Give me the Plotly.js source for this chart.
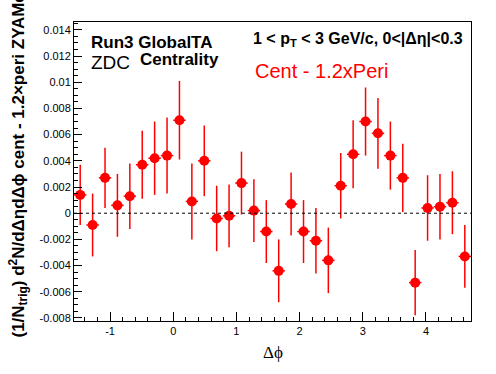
<!DOCTYPE html>
<html>
<head>
<meta charset="utf-8">
<script src="https://cdn.plot.ly/plotly-3.0.1.min.js"></script>
<style>html,body{margin:0;padding:0;background:#fff;}#chart{width:496px;height:374px;}</style>
</head>
<body>
<div id="chart"></div>
<script>
// Δφ bin centres (32 bins from -π/2 to 3π/2)
const dphi = [-1.4726, -1.2763, -1.0799, -0.8836, -0.6872, -0.4909, -0.2945, -0.0982,
              0.0982, 0.2945, 0.4909, 0.6872, 0.8836, 1.0799, 1.2763, 1.4726,
              1.6690, 1.8653, 2.0617, 2.2580, 2.4544, 2.6507, 2.8471, 3.0434,
              3.2398, 3.4361, 3.6325, 3.8288, 4.0252, 4.2215, 4.4179, 4.6142];
const yield_ = [0.0014, -0.0009, 0.0027, 0.0006, 0.0013, 0.0037, 0.0042, 0.0044,
                0.0071, 0.0009, 0.0040, -0.0004, -0.0002, 0.0023, 0.0002, -0.0014,
                -0.0044, 0.0007, -0.0014, -0.0021, -0.0036, 0.0021, 0.0045, 0.0070,
                0.0061, 0.0044, 0.0027, -0.0053, 0.0004, 0.0005, 0.0008, -0.0033];
const yerr = [0.0023, 0.0024, 0.0023, 0.0024, 0.0025, 0.0026, 0.0028, 0.0029,
              0.0030, 0.0029, 0.0027, 0.0025, 0.0024, 0.0024, 0.0024, 0.0024,
              0.0024, 0.0024, 0.0024, 0.0025, 0.0025, 0.0025, 0.0026, 0.0026,
              0.0027, 0.0026, 0.0026, 0.0025, 0.0025, 0.0025, 0.0024, 0.0024];
const halfBin = 0.0982;
const yTickVals = [0.014, 0.012, 0.01, 0.008, 0.006, 0.004, 0.002, 0, -0.002, -0.004, -0.006, -0.008];
const yTickText = ["0.014", "0.012", "0.01", "0.008", "0.006", "0.004", "0.002", "0", "-0.002", "-0.004", "-0.006", "-0.008"];
const xTickVals = [-1, 0, 1, 2, 3, 4];
const xTickText = ["-1", "0", "1", "2", "3", "4"];

const trace = {
  x: dphi, y: yield_, type: 'scatter', mode: 'markers',
  marker: {color: '#ff0000', size: 10, symbol: 'circle'},
  error_y: {type: 'data', array: yerr, visible: true, color: '#ff0000', thickness: 1.5, width: 0},
  error_x: {type: 'constant', value: halfBin, visible: true, color: '#ff0000', thickness: 1.5, width: 0},
  showlegend: false, hoverinfo: 'skip'
};

const font = {family: '"Liberation Sans", Arial, sans-serif', color: '#000'};
const layout = {
  width: 496, height: 374,
  margin: {l: 74, r: 25, t: 22, b: 53},
  paper_bgcolor: '#fff', plot_bgcolor: '#fff',
  font: {family: font.family, size: 11, color: '#000'},
  xaxis: {
    range: [-1.5708, 4.7124], showgrid: false, zeroline: false,
    showline: true, mirror: true, linecolor: '#000', linewidth: 1,
    ticks: 'inside', ticklen: 9, tickcolor: '#000',
    tickvals: xTickVals, ticktext: xTickText,
    tickfont: {family: font.family, size: 11, color: '#000'},
    minor: {dtick: 0.2, tick0: 0, ticks: 'inside', ticklen: 4, tickcolor: '#000', showgrid: false}
  },
  yaxis: {
    range: [-0.00823, 0.0146], showgrid: false, zeroline: false,
    showline: true, mirror: true, linecolor: '#000', linewidth: 1,
    ticks: 'inside', ticklen: 8, tickcolor: '#000',
    tickvals: yTickVals, ticktext: yTickText,
    tickfont: {family: font.family, size: 11, color: '#000'},
    minor: {dtick: 0.0005, tick0: 0, ticks: 'inside', ticklen: 4, tickcolor: '#000', showgrid: false}
  },
  shapes: [{type: 'line', xref: 'paper', x0: 0, x1: 1, yref: 'y', y0: 0, y1: 0,
            line: {color: '#000', width: 1, dash: '3px,3px'}}],
  annotations: [
    {text: '<b>Run3 GlobalTA</b>', xref: 'paper', yref: 'paper', x: 0.038, y: 0.933,
     xanchor: 'left', yanchor: 'middle', showarrow: false, font: {family: font.family, size: 17, color: '#000'}},
    {text: 'ZDC', xref: 'paper', yref: 'paper', x: 0.038, y: 0.866,
     xanchor: 'left', yanchor: 'middle', showarrow: false, font: {family: font.family, size: 19, color: '#000'}},
    {text: '<b>Centrality</b>', xref: 'paper', yref: 'paper', x: 0.16, y: 0.876,
     xanchor: 'left', yanchor: 'middle', showarrow: false, font: {family: font.family, size: 17, color: '#000'}},
    {text: '<b>1 < p<sub>T</sub> < 3 GeV/c, 0<|Δη|<0.3</b>', xref: 'paper', yref: 'paper', x: 0.985, y: 0.943,
     xanchor: 'right', yanchor: 'middle', showarrow: false, font: {family: font.family, size: 16, color: '#000'}},
    {text: 'Cent - 1.2xPeri', xref: 'paper', yref: 'paper', x: 0.795, y: 0.836,
     xanchor: 'right', yanchor: 'middle', showarrow: false, font: {family: font.family, size: 20, color: '#ff0000'}},
    {text: '<b>(1/N<sub>trig</sub>) d<sup>2</sup>N/dΔηdΔϕ cent - 1.2×peri ZYAMed</b>', xref: 'paper', yref: 'paper',
     x: -0.141, y: -0.0635, xanchor: 'center', yanchor: 'bottom', textangle: -90, showarrow: false,
     font: {family: font.family, size: 17, color: '#000'}},
    {text: 'Δϕ', xref: 'paper', yref: 'paper', x: 0.5, y: -0.1037, xanchor: 'center', yanchor: 'middle',
     showarrow: false, font: {family: '"Liberation Serif", serif', size: 17, color: '#000'}}
  ]
};

Plotly.newPlot('chart', [trace], layout, {staticPlot: true, displayModeBar: false});
</script>
</body>
</html>
